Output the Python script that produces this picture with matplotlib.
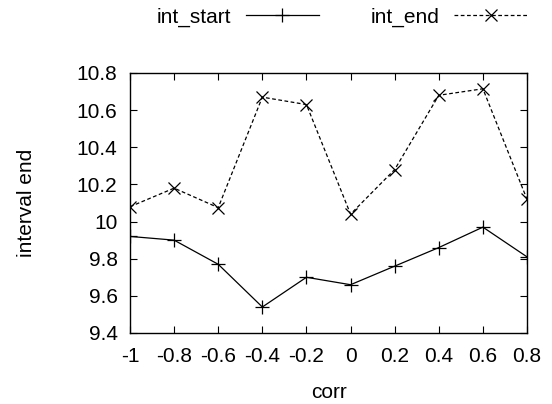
import numpy as np
import matplotlib.pyplot as plt
from matplotlib.ticker import FormatStrFormatter

plt.rcParams['font.family'] = ['Liberation Sans', 'DejaVu Sans']

corr = [-1.0, -0.8, -0.6, -0.4, -0.2, 0.0, 0.2, 0.4, 0.6, 0.8]
int_start = [9.92, 9.90, 9.77, 9.54, 9.70, 9.66, 9.76, 9.86, 9.97, 9.81]
int_end = [10.08, 10.18, 10.075, 10.67, 10.63, 10.04, 10.28, 10.68, 10.715, 10.12]
y_ticks = [9.4, 9.6, 9.8, 10.0, 10.2, 10.4, 10.6, 10.8]

fs = 15

fig = plt.figure(figsize=(5.52, 4.04), dpi=100)
ax = fig.add_axes([130 / 552, 71 / 404, 397 / 552, 260 / 404])

ax.plot(corr, int_start, color='black', lw=0.9, marker='+', ms=10, mew=0.9,
        label='int_start')
ax.plot(corr, int_end, color='black', lw=0.9, ls=(0, (3, 2)), marker='x',
        ms=9, mew=0.9, label='int_end')

ax.set_xlim(-1, 0.8)
ax.set_ylim(9.4, 10.8)
ax.set_xticks(corr)
ax.set_yticks(y_ticks)
ax.xaxis.set_major_formatter(FormatStrFormatter('%g'))
ax.yaxis.set_major_formatter(FormatStrFormatter('%g'))
ax.tick_params(direction='in', length=5, width=0.8, top=True, right=True,
               labelsize=fs)
ax.tick_params(axis='x', pad=10)
ax.tick_params(axis='y', pad=9)
for s in ax.spines.values():
    s.set_linewidth(1.0)

ax.set_xlabel('corr', fontsize=fs, labelpad=12)
ax.set_ylabel('interval end', fontsize=fs, labelpad=29)

fig.legend(loc='center right', bbox_to_anchor=(527 / 552, 1 - 17 / 404),
           ncol=2, frameon=False, markerfirst=False, fontsize=fs,
           handlelength=3.5, handletextpad=0.7, columnspacing=2.5,
           borderpad=0, borderaxespad=0)

fig.savefig('out.png', dpi=100)
